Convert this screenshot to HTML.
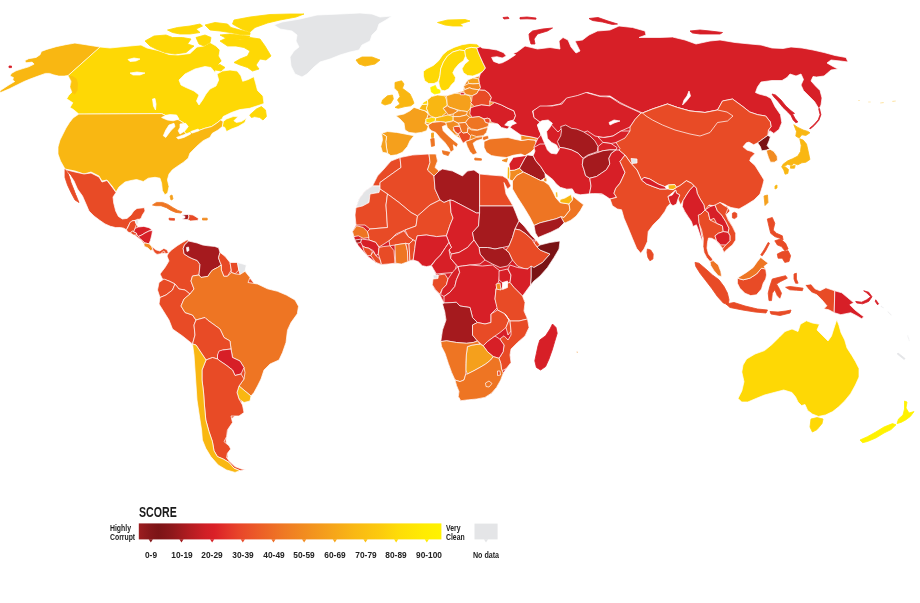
<!DOCTYPE html>
<html><head><meta charset="utf-8"><title>Score map</title>
<style>
html,body{margin:0;padding:0;background:#fff;}
body{width:920px;height:603px;position:relative;overflow:hidden;font-family:"Liberation Sans",sans-serif;color:#1a1a1a;}
svg{position:absolute;left:0;top:0;}
#map{filter:blur(.5px);}
#map polygon{stroke:#fff;stroke-width:.8;stroke-linejoin:round;stroke-opacity:.9;}
.t{position:absolute;white-space:nowrap;transform-origin:0 0;}
#score{left:138.9px;top:504.8px;font-size:14.4px;line-height:14.4px;font-weight:bold;transform:scaleX(.737);color:#1b1b1b;}
.sm{font-size:8.7px;line-height:8.2px;font-weight:bold;color:#222;}
#hc{left:109.6px;top:524.3px;transform:scaleX(.79);}
#vc{left:445.7px;top:524.3px;transform:scaleX(.79);}
.lb{position:absolute;top:551.3px;width:40px;text-align:center;font-size:8.6px;line-height:8.6px;font-weight:bold;color:#222;transform:scaleX(.97);white-space:nowrap;}
#nd{left:466.1px;transform:scaleX(.83);}
</style></head><body>
<svg id="map" width="920" height="603" viewBox="0 0 920 603">
<polygon points="0,90.8 8,85.5 14.7,81.5 12.7,80.1 13.4,77.5 10,76.1 11.4,73.4 16,70.8 22.1,68.8 28.7,66.8 34.1,64.1 32.1,62.1 26.1,62.8 24.7,60.7 28.7,58.7 36.1,57.4 40.1,54.7 41.4,51.4 46.8,49.4 56.1,46.7 65.5,44.7 74.9,43.1 85.6,44.7 93.6,46 100.3,47.1 68.2,75.5 64.2,76.1 58.8,76.1 53.5,74.8 49.5,73.4 45.5,73.4 38.1,76.1 30.7,78.8 24.1,81.5 17.4,84.8 9.4,88.8 0,92.8" fill="#F9B712"/>
<polygon points="100,47 110,48 120,47 130,46 141,45 147,48 158,50.5 169,54.5 178,55 190,53.5 197,47 204,46 210,42.5 216,46 220,50 219,56 222,61 218,65 215,72.5 211,67.5 205,66.5 195,69 185,74 179,80 181,85 186,87.5 194,91 199,95 196.5,101 199,105 202.5,100 206,94 210,89 216,86 218.7,80 217,74 222.5,71 230,70 237.2,71 240.9,75.8 242.7,81.3 248.3,79.5 253.8,76.7 255.6,83.1 257.5,90.5 263,96 264,103.5 259.7,105 249.7,108.3 239.8,109.6 231.4,112.5 223.1,116.6 222.3,118.5 220.6,120 216.5,123.3 211.5,126.6 204.8,128.3 199,130.4 195,131 191,133 187,135 184,131.5 186,124.5 179,120 170,117.5 161.6,113.6 78.8,114.1 73.4,109.5 70,107.5 72.8,102.8 66.7,98.8 68.7,95.4 72,92 70,86.7 71.4,81.4 68.2,75.5" fill="#FED805"/>
<polygon points="68.2,75.5 70.9,80.8 70.2,87.5 72.2,92.8 74.9,94.2 77.5,90.2 78,83.5 76.5,78.8 72.5,76.1" fill="#F9B712" style="stroke:none;opacity:.55"/>
<polygon points="249.7,115 256.4,109 261.4,106.6 265.5,110 266.4,116.6 263,120 259.7,117.5 254.7,116.6 251.4,117.5" fill="#FED805" style="stroke:#FED805;stroke-width:.9"/>
<polygon points="222.3,126.6 223.1,121.6 226.5,119 233.1,116.6 238.1,116.6 233.9,120.8 236.4,122.4 241.4,121.6 246.4,118.3 244.8,122.4 238.1,126.6 231.4,129 226.5,131.6 224.8,127.4" fill="#FED805"/>
<polygon points="145,41 154,36 166,35 172.5,37.5 182.5,37.5 191,39 187.5,44 194,46 186,52.5 175,54 165,52.5 156,49 150,46" fill="#FED805" style="stroke:#FED805;stroke-width:.9"/>
<polygon points="167.5,30 177.5,27.5 190,26 200,24 202.5,26 196,29 200,32.5 190,34 180,34 172.5,32.5" fill="#FED805" style="stroke:#FED805;stroke-width:.9"/>
<polygon points="205,25 215,22.5 227.5,24 231,27.5 240,30 250,32.5 250,34.5 240,34.5 230,32.5 220,31 210,30" fill="#FED805" style="stroke:#FED805;stroke-width:.9"/>
<polygon points="234,20 250,17 270,14.5 290,14 304,14 296,17 280,20 267.5,23 255,27.5 250,32 242.5,29.5 236,26 232.5,24" fill="#FED805" style="stroke:#FED805;stroke-width:.9"/>
<polygon points="220,41 227.5,37.5 240,40 250,37.5 260,39 265,46 271,56 266,60 260,59 256,65 259,69 252.5,71 247.5,67.5 240,65 234,62.5 240,59 247.5,56 250,51 244,47.5 236,46 227.5,46" fill="#FED805" style="stroke:#FED805;stroke-width:.9"/>
<polygon points="196,37.5 205,35 211,37.5 210,42.5 204,46 199,44" fill="#FED805" style="stroke:#FED805;stroke-width:.9"/>
<polygon points="220,35 230,34 242.5,35.5 250,36 247.5,39 237.5,39.5 227.5,39" fill="#FED805" style="stroke:#FED805;stroke-width:.9"/>
<polygon points="213.5,66 220,64.5 225,67.5 221,71 215.5,70" fill="#FED805" style="stroke:#FED805;stroke-width:.9"/>
<polygon points="274,25 282,22 300,19 317,15 340,14 360,13 372,14 380,17 392,16 386,20 379,24 377,30 372,35 370,41 362,45 359,50 350,52 340,55 330,59 320,62 314,67 307,74 302,77 295,74 291,66 290,57 294,51 299,47 296,41 297,35 292,31 280,29" fill="#E4E5E7"/>
<polygon points="356,60 362,57 372,57 380,60 375,64 365,66 359,64" fill="#F9B712" style="stroke:#F9B712;stroke-width:.9"/>
<polygon points="78.8,114.1 161.6,113.6 170,117.5 179,120 186,124.5 184,131.5 187,135 191,133 195,131 199,130.4 204.8,128.3 211.5,126.6 216.5,123.3 220.6,120 223.1,121.6 222.3,126.6 218.1,130 212.3,133.3 209.8,137.4 203.2,140.7 198.2,144.9 194,149 189.9,153.2 188.2,158.2 183.2,162.4 178.2,165.7 172.4,169.8 169,174 167.4,179.8 169,186.5 167.6,193.1 164.9,194.8 162.4,190.6 161.6,183.2 160,178.2 155,177.3 148.3,178.2 143.3,181.5 136.6,179.5 131,180.5 125,182 119,187 116,192 112,186 107,180 102,181 99,176 91,172 84,174 75,171 65,169 60.5,161 58,154 58,147 60,140 63,134 66,128 69.5,122.5 73,118" fill="#F9B712"/>
<polygon points="161.6,117.5 166,115.3 170,114.6 176.6,115 179,119 173.2,120.8 167.4,120" fill="#fff" stroke="none"/>
<polygon points="169,125 174,123.3 175,126.6 170.7,130.8 165.8,137.4 163.3,135.8 165.8,130" fill="#fff" stroke="none"/>
<polygon points="180,124 185.7,123.3 188.2,126.6 185,130.8 180,134 178.2,130.8 180,127.4" fill="#fff" stroke="none"/>
<polygon points="176.6,137.4 183.2,135 189.9,132.4 190.7,134 184,137.4 178.2,139" fill="#fff" stroke="none"/>
<polygon points="190.7,131.6 198.2,129 199,130.8 192.4,133" fill="#fff" stroke="none"/>
<polygon points="152.5,99 155,98.5 156,104 155.5,110 153.5,106" fill="#fff" stroke="none"/>
<polygon points="128,59.5 134,58 140,59 136,61 130,61.5" fill="#fff" stroke="none"/>
<polygon points="130,73 137,72 145,73 140,75 133,75" fill="#fff" stroke="none"/>
<polygon points="65,169.5 75,172 84,174 91,173 99,177 102,182 107,180.5 112,187 116,192.5 113,197 113.7,203 115.7,211 118.4,216.4 122.4,219 127,218.4 131,215 133.7,211 137,208.4 144.4,207.7 145,211 142.4,215 141,218.4 138.4,219.7 137,221.7 135,220.4 131.7,221 129.7,223 128.4,226.4 126.4,229.8 123.7,228.2 120.4,227.5 115.7,227.6 110.4,226.3 105,223.9 100,220.5 94,216 89,211 86,204 82.5,196 77.5,189 74,181 70,175" fill="#E84B26"/>
<polygon points="65,169.5 69,175 71,182.5 74,190 77.5,199 79,202.5 75,200 71,192.5 67.5,185 65,177.5" fill="#E84B26" style="stroke:#E84B26;stroke-width:.9"/>
<polygon points="69.5,174.5 72,181 75,189 77,195 75.5,189 73,181.5" fill="#fff" stroke="none"/>
<polygon points="128,226 135,221 138,227 150,228 151,236 149,243 152,248 158,252 164,250 166,253 157,254 152,250 146,246 141,240 133,234 128,231" fill="#E84B26"/>
<polygon points="126.4,229.8 128.4,226.4 129.7,223 131.7,221 135,220.4 136.4,224.4 135,228.4 133.7,231.8 132.4,231 130.4,233 127.7,231.8" fill="#E84B26"/>
<polygon points="136.4,219.7 138.4,219 138.2,223.7 136.4,224.4 135,220.4" fill="#E4E5E7"/>
<polygon points="130.4,233 132.4,231 133.7,231.8 136.4,233 137,235 133.7,235" fill="#E84B26"/>
<polygon points="135,228.4 138.4,227 143.8,226.4 149,227.7 152.5,230.4 149,231 145,233 141.8,235 138.4,236.4 137,235 136.4,233 133.7,231.8" fill="#D71F27"/>
<polygon points="138.4,236.4 141.8,235 145,233 149,231 152.5,230.4 151.8,235 150.4,240.4 149,243.8 145,243 142.4,240.4 139.7,238.4" fill="#D71F27"/>
<polygon points="143.8,243.8 145,243 149,243.8 151.8,246.4 153,249.8 150.4,250.4 147.8,247.8 144.4,246.4" fill="#F18B21"/>
<polygon points="151.8,246.4 155.8,249.8 159.8,251 163.8,248.4 167,249.8 168.5,253 165.8,253.8 163.8,251 160.5,253.8 157,254.4 154.4,252.4 153,249.8" fill="#E84B26"/>
<polygon points="152.5,205 156.5,202.4 162.5,202.4 167.8,204.4 173,207.7 177.8,210.4 181.8,211.7 181,213 175.8,212.4 171,210.4 166.5,207.7 161,205.7 155.8,205.7" fill="#EE7523" style="stroke:#EE7523;stroke-width:.9"/>
<polygon points="169,218.2 174.5,218.6 174.5,220.2 169.4,220" fill="#E84B26" style="stroke:#E84B26;stroke-width:.9"/>
<polygon points="181.8,215 188.5,214.4 189,217 187.8,219.7 181.8,219 185,217.7 185,216.4" fill="#A51A1E"/>
<polygon points="188.5,214.4 193,215 198.5,218.4 197.8,220.4 190.5,221 187.8,219.7 189,217" fill="#E84B26"/>
<polygon points="202.5,218.2 207.2,218.2 207.2,220 202.5,220" fill="#F18B21" style="stroke:#F18B21;stroke-width:.9"/>
<polygon points="170,196 172,195 173,199 171,200" fill="#F5A01C" style="stroke:#F5A01C;stroke-width:.9"/>
<polygon points="172,256 186,246 218,250 229,264 246,273 257,287 294,302 294,314 284,340 278,358 262,369 253,392 242,400 240,412 230,420 226,440 228,458 222,456 212,440 205,415 199,385 197,350 183,334 171,322 163,302 160,290 163,277 168,262" fill="#E84B26"/>
<polygon points="168.5,253 171.8,249.8 177.2,245.8 182.5,242.4 187.2,239.8 188.5,241 184.5,245 183.2,248.4 184,253.8 188,256.5 192,258.5 197.2,260.5 200,264.5 199,275 192.5,276 191,281 194,289 190,294 185,290 179,289 175,284 169,281 162.5,279 160,274 165,267.5 169,261 167,256" fill="#E84B26"/>
<polygon points="184.5,245 188.5,241 192,241.8 197.2,243 202.6,245 208,245.8 214.6,246.4 218.6,247.8 220,252.4 218.5,257.8 220,262 221.3,265 217.5,267.5 212.5,270 210,273 208,276.3 204,277 201,277.5 199,275 200,264.5 197.2,260.5 192,258.5 188,256.5 184,253.8 183.2,248.4" fill="#A51A1E"/>
<polygon points="186.5,247.5 188.5,247 189,250.5 187,251.5" fill="#fff" stroke="none"/>
<polygon points="220,252.4 225,256.3 230,262.5 231.3,270 227.5,276.3 223.8,276.3 221.3,270 221.3,265 220,262 218.5,257.8" fill="#E84B26"/>
<polygon points="230,262.5 237.5,262.5 238.8,270 235,273.8 231.3,272.5 231.3,270" fill="#E84B26"/>
<polygon points="237.5,262.5 246.3,265 245,271.3 240,274.5 238.8,270" fill="#E4E5E7"/>
<polygon points="159,282.5 164,279 169,281 175,284 172.5,290 166,295 160,297.5 157.5,290" fill="#E84B26"/>
<polygon points="160,297.5 166,295 172.5,290 175,284 179,289 185,290 190,294 184,299 181,306 185,312.5 192.5,315 196,320 194,325 195,335 192.5,344 182.5,336 172.5,329 169,320 164,312 159,304" fill="#E84B26"/>
<polygon points="192.5,276 199,275 201,277.5 204,277 208,276.3 210,273 212.5,270 217.5,267.5 221.3,265 221.3,270 223.8,276.3 227.5,276.3 231.3,272.5 235,273.8 240,274.5 245,271.3 250,277.5 248,282.5 257.5,284 267.5,288.8 277.5,291.3 286.3,295 295,300 298.5,306.3 297.3,313.8 291,322.5 287.5,330 286,342.5 282.5,352.5 279,360 270,364 264,370 261,379 257.5,386 254,392.5 251,396 245,391 239,386 244,379 245,372.5 244,367.5 240,361 232.5,357.5 231,349 230,341 224,337.5 220,329 207.5,320 205,317.5 196,320 192.5,315 185,312.5 181,306 184,299 190,294 194,289 191,281" fill="#EE7523"/>
<polygon points="196,320 205,317.5 207.5,320 220,329 224,337.5 230,341 231,349 222.5,350 217.5,355 217.5,359 212.5,357.5 206,360 201,352.5 196,345 192.5,344 195,335 194,325" fill="#E84B26"/>
<polygon points="219,351 222.5,350 231,349 232.5,357.5 240,361 244,367.5 241,374 235,375.5 232.5,370 226,365 220,361 217.5,359 217.5,355" fill="#D71F27"/>
<polygon points="239,386 245,391 251,396 250,401 244,402.5 239,399 237,392.5" fill="#F9B712"/>
<polygon points="206,360 212.5,357.5 217.5,359 220,361 226,365 232.5,370 235,375.5 241,374 244,379 239,386 237,392.5 239,399 242.5,405 244,412.5 239,416 231,416 232.5,422.5 227.4,430 226.6,436.6 224,441.6 229,445.8 230.7,449 227.4,453.3 226.6,457.4 229,460.8 235,466.6 241.5,469 245.7,469.4 240,470.7 234,468.2 229,462.4 223.2,459 217.4,456.6 214,450.8 212.4,441.6 209,431.6 205.8,420 204.5,406 203.5,392 202,380 202,370" fill="#E84B26"/>
<polygon points="192.5,344 196,345 201,352.5 206,360 202,370 202,380 203.5,392 204.5,406 205.8,420 209,431.6 212.4,441.6 214,450.8 217.4,456.6 223.2,459 229,462.4 234,468.2 240,470.7 235,472.4 226.6,470 218.2,465 210.8,456.6 205.8,448.3 202.4,440 201.6,430 200,420 198.5,410 197,400 196,385 195,370 194,355" fill="#F9B712"/>
<polygon points="427.4,100 437.4,95 446.5,95.8 454.8,93.3 463,91 464,85.8 467.5,80 473,78 479,76 485,69 489,75 491,90 492,100 500,104 514,111 515.5,116 508,121.6 498,124 489,123 488,127.4 486.4,132.4 483,136.5 476.5,140.7 470.6,139.8 465.6,141.5 460.7,139 454.8,134.9 449.8,130 446.5,124.9 440.7,121.6 432.4,122.4 428.2,124.9 425,123.2 426.6,119 428.2,114 427.9,104" fill="#F18B21"/>
<polygon points="437.5,22.5 447.5,20 465,19.5 470,21 460,24 462.5,26 452.5,26 445,25" fill="#FED805" style="stroke:#FED805;stroke-width:.9"/>
<polygon points="423.4,71.4 426.7,68.8 433.4,65.4 438.7,60.7 442.8,54.7 447.4,50.7 454,47.4 462,44.7 470,43.4 476.8,44 480.2,46.7 476.8,48 471.5,47.4 466,48.7 464.8,50.7 459.5,50 452.8,52 447.4,56 443.4,62 440.7,68.8 440,75.5 438,81.5 434,83.5 428.7,83.5 424.7,80.8 423.4,76" fill="#FED805"/>
<polygon points="443.4,62 447.4,56 452.8,52 459.5,50 464.8,50.7 465.5,56 463.5,60.7 458.8,64 454.8,68.8 452.8,72.8 455.5,77.5 454.8,81.5 451.4,84.8 448.8,88.8 444.8,90.8 441.4,90.2 439.4,86 438.7,81.5 440,75.5 440.7,68.8" fill="#FED805"/>
<polygon points="464.8,50.7 466,48.7 471.5,47.4 476.8,48 478.2,52 480.2,56.7 482.9,62.8 485.5,68 482.9,71.4 478.2,74 472.8,76 467.5,75.5 463.5,72.8 462,68.8 464.8,64 468.8,60.7 466.8,58.7 465.5,56" fill="#FED805"/>
<polygon points="430.7,87.5 435.4,85.5 436.7,88.8 440,90.2 440,92.8 434.7,94 431.4,92" fill="#FFF200" style="stroke:#FFF200;stroke-width:.9"/>
<polygon points="395,82.5 401.6,80.8 404,84 402.4,88.3 405.8,90.8 410,94 412.4,99 414,103.3 410.8,105.8 405,106.6 398.3,108.3 395,107.4 400,104 397.5,100 400,96.6 398.3,91.6 395,88.3" fill="#F9B712" style="stroke:#F9B712;stroke-width:.9"/>
<polygon points="382.5,100 387.5,95.8 392.5,95 393.3,99 390.8,103.3 385,105 381.6,103.3" fill="#F9B712" style="stroke:#F9B712;stroke-width:.9"/>
<polygon points="395.8,115.7 404,114 410,110.8 414,107.4 419,109 425,110.8 428.2,114 426.6,119 425,123.2 428.2,126.5 426.6,130.7 421.6,132.4 415.7,133.2 409,132.4 405,130 404,123.2 400,119" fill="#F5A01C"/>
<polygon points="381.6,133.2 387.5,131.5 396.6,132.4 405,134 414,135.7 410,140.7 407.4,146.5 402.4,152.3 396.6,154.8 390.8,155.6 387.5,153.2 386.6,148.2 385.8,141.5 386.6,136.5" fill="#F5A01C"/>
<polygon points="381.6,133.2 386.6,136.5 385.8,141.5 386.6,148.2 387.5,153.2 382.5,152.3 380.8,146.5 382.5,139.8" fill="#F5A01C"/>
<polygon points="419,109 422,104.5 427.9,104 426.5,108.3 428.2,112.4 425,110.8" fill="#F9B712"/>
<polygon points="422,104.5 423.2,102.4 427.4,100 427.9,104" fill="#FED805"/>
<polygon points="427.4,100 431.5,96.6 437.4,95 444.8,95.8 446.5,100 447.3,105 443.2,108.3 446.5,112.4 441.5,116.6 435.7,117.9 429.9,115.7 428.2,112.4 426.5,108.3 427.9,104" fill="#F9B712"/>
<polygon points="425.7,119 431.5,117.4 435.7,117.9 435.2,121.2 429.9,123.2 426.2,122.4" fill="#FED805"/>
<polygon points="435.7,117.9 441.5,116.6 448.2,114.9 453.2,116.6 453.2,120.7 445.7,122.4 440.7,121.6 435.2,121.2" fill="#F9B712"/>
<polygon points="446.5,95.8 454.8,93.3 463,94 469.8,95.8 471.5,101.6 470.6,108.3 467.3,111.6 461.5,110.8 454.8,109 449.8,107.4 447.3,105" fill="#F5A01C"/>
<polygon points="443.2,108.3 447.3,105.8 449.8,107.4 454.8,109 458.2,110.8 453.2,114 448.2,114.9 446.5,112.4" fill="#F18B21"/>
<polygon points="453.2,114 458.2,110.8 461.5,110.8 467.3,111.6 466.5,114.9 459.8,116.6 453.2,116.6" fill="#F18B21"/>
<polygon points="453.2,116.6 459.8,116.6 466.5,114.9 469.8,117.4 465.6,122.4 458.2,123.2 453.2,120.7" fill="#F18B21"/>
<polygon points="467.5,80 472.8,78 478.5,78.8 479.5,83.5 472.8,83.9 468.8,83.5" fill="#F5A01C"/>
<polygon points="463.5,86 468.8,83.5 472.8,83.9 479.5,83.5 480.5,87.5 479,89.8 472.8,89 469.5,87.8 464.8,89.5" fill="#F18B21"/>
<polygon points="463.5,90.2 469.5,87.8 472.8,89 479,89.8 476.8,93.5 472.2,95.8 466.8,94.6 464.1,92.8" fill="#F18B21"/>
<polygon points="460.1,92.6 464.1,92.6 464.6,94.8 460.5,94.8" fill="#D71F27"/>
<polygon points="472.2,95.8 476.8,93.5 479,89.8 484.9,90.2 489,93.3 491.4,97.5 489.8,101.6 489.8,105.8 481.4,104.9 474,106.6 470.6,102.4 471.5,101.6" fill="#E84B26"/>
<polygon points="469.8,108.3 474,106.6 481.4,104.9 489.8,105.8 494.7,102.4 501.4,104.9 508,108.3 513.9,110.8 515.5,115.7 513.9,119.9 508,121.6 504.7,124.9 509.7,126.5 507.2,129 501.4,127.4 498,124 491.4,122.4 489.8,119 487.3,118.2 484,119 479,116.6 472.3,117.4 469.8,114 470.6,108.3" fill="#D71F27"/>
<polygon points="428.2,124.9 432.4,122.4 440.7,121.6 445.7,122.4 446.5,124.9 442.3,126.5 443.2,130.7 448.2,135.7 454,140.7 458.2,144 456.5,147.3 453.2,144.8 454,149.8 450.7,152.3 449,148.2 444.8,142.4 439.8,137.4 435.7,132.4 431.5,130.7 429,128.2" fill="#EE7523"/>
<polygon points="442.3,150.7 449.8,152.3 448.2,155.6 443.2,154" fill="#EE7523" style="stroke:#EE7523;stroke-width:.9"/>
<polygon points="430.7,139 434,138.2 434.5,145.7 431.5,146.5" fill="#EE7523" style="stroke:#EE7523;stroke-width:.9"/>
<polygon points="431.5,133.2 433.5,132.9 433.5,137.4 431.5,137.4" fill="#F5A01C" style="stroke:#F5A01C;stroke-width:.9"/>
<polygon points="445.7,122.4 451.5,121.6 453.2,120.7 458.2,123.2 459.8,125.7 454.8,126.5 453.2,130 458.2,135.7 454.8,134.9 449.8,130 447.3,127.4 446.5,124.9" fill="#F18B21"/>
<polygon points="453.2,127.4 454.8,126.5 459.8,126.5 461.5,131.5 458.2,134 454.8,131.5" fill="#E84B26"/>
<polygon points="458.2,123.2 465.6,122.4 468.1,126.5 467.3,132.4 463.1,133.2 461.5,131.5 459.8,126.5 459.8,125.7" fill="#EE7523"/>
<polygon points="458.2,134 461.5,131.5 463.1,133.2 467.3,132.4 470.6,135.7 469.8,139.8 465.6,141.5 463.1,143.2 460.7,139" fill="#E84B26"/>
<polygon points="467.3,119.9 469.8,117.4 472.3,117.4 479,116.6 484,119 485.6,122.4 489,123.2 488,126.5 483.1,128.2 477.3,129.9 471.5,129 468.1,126.5 465.6,122.4" fill="#EE7523"/>
<polygon points="484,119 487.3,118.2 489.8,119 490,122.6 489,123.2 485.6,122.4" fill="#E84B26"/>
<polygon points="471.5,129.9 477.3,130.4 483.1,128.6 488,127.4 486.4,132.4 483.1,135.7 476.5,136.5 471.5,134.9 470.6,135.7 467.3,132.4 468.1,128" fill="#EE7523"/>
<polygon points="465.6,141.5 470.6,139.8 476.5,137.4 483.1,136.5 482.3,139 476.5,140.7 473.1,143.2 474.8,148.2 477.3,153.2 473.1,154.8 469.8,151.5 467.3,146.5" fill="#EE7523"/>
<polygon points="474.8,158 481.4,158.8 481.4,160.2 474.8,160" fill="#EE7523" style="stroke:#EE7523;stroke-width:.9"/>
<polygon points="483.1,136.5 488,135.5 489,138.5 484,140.5 482.3,139" fill="#EE7523"/>
<polygon points="484,141.5 489.8,139 498,138.2 508,137.5 515,139.3 521,140.5 528,139.5 535,140 537,144 535,148 531,152 525,155.7 521,154 513,155.3 506.4,157.5 498,156.7 491.4,155.6 486.4,152.3 484,147.3" fill="#EE7523"/>
<polygon points="502,160.5 507.5,158.5 506.5,162" fill="#F18B21" style="stroke:#F18B21;stroke-width:.9"/>
<polygon points="520.8,135 526,136 532,137 538,138.5 538.5,141 535,140 528,139.5 521,140.5" fill="#F18B21"/>
<polygon points="535,140 538.5,141 541,139 546.5,142 548,148 543.5,147 540,148.5 537,144" fill="#D71F27"/>
<polygon points="508,121.6 513,120.7 516.4,123.2 512.2,124.9 509,124" fill="#fff" stroke="none"/>
<polygon points="391,161 400,157.5 412.5,155 429,154 436,154 437.5,161 435,167.5 439,171 442.5,169 452.5,171 462.5,176 467.5,171 474,170 479,174 490,175 502.5,176 507.5,179 511,186 507.5,189 504,182.5 506,194 512.5,205 515,215 519,221 524,226 531,235 536,240 540,245 550,242.5 560,241 559,249 554,257.5 547.5,267.5 540,276 534,281 530.5,285 522.5,296 525,302.5 524,311 527.5,319 529,327.5 525,336 517.5,342.5 511,349 510,355 511,362.5 506.5,368.3 503.2,373.2 500.7,380 496.5,387.4 491.5,393.2 484.9,397.4 476.6,399 468.3,399.8 460.8,400.7 458.3,396.5 459,391.5 456.6,385.7 455,380 451.6,372.4 448.3,363.3 445,353.3 441.6,346.6 440.8,341.6 442.5,330 446,320 444.8,315 445.6,308 444,303.2 441.5,298.2 439.8,294.8 434.8,289.8 432.3,285 433,281.5 436.5,278.2 435.6,274 434,270 431.5,265.7 426.5,266.6 422.3,265.7 418.2,261.6 413.2,260 408.2,261.6 401.5,264 395,263.2 388.2,264 381.6,265 375.8,262.4 369,257.4 363.3,251.6 358.3,245.8 355,240.8 354,237.5 352.5,231.6 356,225 355,215 356,207.5 359,199 365,191 372.5,186 377.5,176 384,169" fill="#D71F27"/>
<polygon points="377.5,176 384,169 391,161 400,157.5 401,167.5 396,171 389,176 380,182.5 380,186 372.5,186" fill="#E84B26"/>
<polygon points="356,207.5 359,199 365,191 372.5,186 380,186 379,192.5 370,194 369,202.5 362.5,206" fill="#E4E5E7"/>
<polygon points="400,157.5 412.5,155 429,154 430,162.5 427.5,170 434,176 435,189 440,200 430,205 417.5,216 411,212.5 399,202.5 387.5,194 380,189 380,182.5 389,176 396,171 401,167.5" fill="#E84B26"/>
<polygon points="429,154 436,154 437.5,161 435,167.5 439,171 434,176 427.5,170 430,162.5" fill="#EE7523"/>
<polygon points="434,176 439,171 442.5,169 452.5,171 462.5,176 467.5,171 474,170 479.6,174 479.6,189 479.6,213 476.5,213 453,200.6 450,200 444,202.5 440,200 435,189" fill="#A51A1E"/>
<polygon points="479.6,174 490,175 502.5,176 507.5,179 511,186 507.5,189 504,182.5 506,194 513,206 479.6,206 479.6,189" fill="#E84B26"/>
<polygon points="356,207.5 362.5,206 369,202.5 370,194 379,192.5 380,189 387.5,194 386,205 387.5,227.5 370,229 365,225 356,225 355,215" fill="#E84B26"/>
<polygon points="387.5,194 399,202.5 411,212.5 417.5,216 416,226 405,230 396,234 390,240 384,244 379,247 375.8,242.4 369,240 367.4,231.6 370,229 387.5,227.5 386,205" fill="#E84B26"/>
<polygon points="417.5,216 430,205 440,200 444,202.5 450,200 451,212.5 453,218 450,225 446.4,235.8 436.5,236.6 426.5,235 417.3,235.8 415.7,241.6 413.2,240 408.2,236.6 405,230 416,226" fill="#E84B26"/>
<polygon points="450,200 453,200.6 476.5,213 479.6,213 478.5,226 472.5,232.5 474,240 467.5,247.5 459,252.5 451.4,254 449,250 451.4,247.4 449,242.4 446.4,235.8 450,225 453,218 451,212.5" fill="#D71F27"/>
<polygon points="479.6,206 513,206 515.5,212 519,221 515,229 512.5,237.5 509,246 502.5,247.5 495,249 487.5,247.5 479,247.5 474,240 472.5,232.5 478.5,226 479.6,213" fill="#A51A1E"/>
<polygon points="479,247.5 487.5,247.5 495,249 502.5,247.5 506,250 509,252.5 512.5,260 507.5,266 500,267.5 492.5,264 485,260 480,254" fill="#A51A1E"/>
<polygon points="515,229 519,221 524,226 531,235 536,240 532.5,240 526,234 520,230" fill="#A51A1E"/>
<polygon points="536,240 540,245 537,247 534,243" fill="#E84B26"/>
<polygon points="512.5,237.5 515,229 520,230 526,234 532.5,240 534,243 537,247 540,250 550,254 542.5,262.5 534,267.5 525,269 517.5,266 512.5,260 509,252.5 506,250 509,246" fill="#E84B26"/>
<polygon points="540,245 550,242.5 560,241 559,249 554,257.5 547.5,267.5 540,276 534,281 530.5,285 531,277 531,266 534,267.5 542.5,262.5 550,254 540,250 537,247" fill="#7A1315"/>
<polygon points="352.5,231.6 356.6,225.8 363.3,227.5 367.4,231.6 369,237.5 363.3,238.3 358.3,235.8 354,236.6" fill="#EE7523"/>
<polygon points="355,240 361.6,239 360.8,242.4 356.6,243.3" fill="#A51A1E"/>
<polygon points="360.8,242.4 361.6,239 369,240 375.8,242.4 379,247.4 378.3,254 375.8,255.7 373.3,250.7 369,248.3 365,247.4 362.5,245.8" fill="#D71F27"/>
<polygon points="362.5,245.8 365,247.4 369,248.3 372.4,251.6 370.8,255.7 367.4,255.5 364,251" fill="#E84B26"/>
<polygon points="370.8,255.7 373.3,251.5 375.8,255.7 380,259 381.6,264.5 375.8,262.4" fill="#E84B26"/>
<polygon points="379,247.4 383.2,246.6 389.9,245.8 394,250.7 394.9,263.2 388.2,264 381.6,264.5 380,259 378.3,254" fill="#E84B26"/>
<polygon points="389,240.8 394.9,235.8 404,230.8 408.2,236.6 413.2,240 409,244 405.7,243.3 394.9,245 389.9,245.8" fill="#E84B26"/>
<polygon points="394.9,245 405.7,243.3 407.4,250.7 408.2,261.6 401.5,264 395.7,263.2" fill="#EE7523"/>
<polygon points="405.7,243.3 409,244 409.9,260.5 407.9,261.6 407.4,250.7" fill="#E84B26"/>
<polygon points="409,244 413.2,240 415.7,241.6 414.8,248.3 413.2,260 409.9,260.5" fill="#E84B26"/>
<polygon points="415.7,241.6 417.3,235.8 426.5,235 436.5,236.6 446.4,235.8 449,242.4 445.6,247.4 440.6,255 435.6,260 430.6,265.7 426.5,266.6 422.3,265.7 418.2,261.6 413.2,260 414.8,248.3" fill="#D71F27"/>
<polygon points="449,242.4 451.4,247.4 449,250 450.6,258.3 456.4,265 454.8,272.4 444.8,273.2 436.5,274 434,270 431.5,265.7 435.6,260 440.6,255 445.6,247.4" fill="#D71F27"/>
<polygon points="451.4,254 459,252.5 467.5,247.5 474,240 479,247.5 480,254 485,260 480,264 470,265 462.5,266 458,266.6 456.4,265 450.6,258.3" fill="#D71F27"/>
<polygon points="433,275 438,275 438,278.2 433.5,278.5" fill="#E4E5E7"/>
<polygon points="433,279 438,278.5 438.5,275 444.8,274 448,279 446.4,284.8 442.3,289 439.8,294 435.6,289.8 432.3,284.8" fill="#E84B26"/>
<polygon points="448,279 453,271.5 458,266.6 459.7,272.4 456.4,279.8 454.8,286.5 449.8,292.4 444,296.5 440.6,294.5 442.3,289 446.4,284.8" fill="#D71F27"/>
<polygon points="458,266.6 462.5,266 470,265 482.5,266 492.5,265 500,271 499,280 496,289 495,299 497.5,307.5 491,314 491,322.5 485,324 477.5,322.5 472.5,317.5 470,307.5 460,306 456.4,302.3 444,303 444,296.5 449.8,292.4 454.8,286.5 456.4,279.8 459.7,272.4" fill="#D71F27"/>
<polygon points="499,271 507.5,269 511,275 510,282.5 504,284 499,280" fill="#D71F27"/>
<polygon points="510,265 517.5,267.5 527.5,269 531,266 531,277 530.5,285 522.5,296 514,287.5 510,282.5 511,275 508,269" fill="#D71F27"/>
<polygon points="496,284 500,283 501,290 497,291" fill="#F18B21"/>
<polygon points="496,289 501,290 504,284 510,282.5 514,287.5 522.5,296 525,302.5 524,311 527.5,319 519,321 510,321 505,314 497.5,310 495,299" fill="#E84B26"/>
<polygon points="502.5,282.5 507.5,281 507.5,287.5 502.5,289.5" fill="#fff" stroke="none"/>
<polygon points="442.5,304 444,303 456.4,302.3 460,306 470,307.5 472.5,317.5 477.5,322.5 472.5,325 472.5,335 477.5,341 473.2,342.5 466.6,343.3 456.6,342.5 446.6,340.8 440.8,341.6 442.5,330 446,320 444.8,312" fill="#A51A1E"/>
<polygon points="472.5,325 477.5,322.5 485,324 491,322.5 491,314 497.5,310 505,314 509,320 506,327.5 500,332.5 495,336 487.4,341.6 483.2,345.8 477.5,341 472.5,335" fill="#E84B26"/>
<polygon points="505,314 510,321 511,331 508,335 506,327.5 509,320" fill="#E84B26"/>
<polygon points="510,321 519,321 527.5,319 529,327.5 525,336 517.5,342.5 511,349 510,355 511,362.5 506.5,368.3 502.3,370.7 501.5,369 500.7,363.3 499,358.3 503.2,351.6 504,345 499.8,339 504,335.8 508,340 511,335 511,331" fill="#E84B26"/>
<polygon points="483.2,345.8 487.4,341.6 495,336 499.8,339 504,345 503.2,351.6 499,358.3 493.2,356.6 487.4,351.6" fill="#D71F27"/>
<polygon points="467.4,346.6 472.4,345 480,344 483.2,345.8 487.4,351.6 493.2,356.6 490.7,360 485.7,364 480,367.4 474,370.7 467.4,374 465.8,370 466.3,355" fill="#F5A01C"/>
<polygon points="440.8,341.6 446.6,340.8 456.6,342.5 466.6,343.3 473.2,342.5 477.5,341 480,344 472.4,345 467.4,346.6 466.3,355 465.8,363.3 465.8,374 464,380 460,381.6 455,380 451.6,372.4 448.3,363.3 445,353.3 441.6,346.6" fill="#EE7523"/>
<polygon points="455,380 460,381.6 464,380 465.8,374 467.4,374 474,370.7 480,367.4 485.7,364 490.7,360 493.2,356.6 499,358.3 500.7,363.3 501.5,369 503.2,373.2 500.7,380 496.5,387.4 491.5,393.2 484.9,397.4 476.6,399 468.3,399.8 460.8,400.7 458.3,396.5 459,391.5 456.6,385.7" fill="#EE7523"/>
<polygon points="485.5,383 489,381 492,383.5 489,387 486,386.5" fill="#EE7523"/>
<polygon points="497.5,371 500,371 500.5,375 497.5,375.5" fill="#E84B26"/>
<polygon points="552.5,324 556,327.5 557.2,333.3 554.7,341.6 552.2,350 549,359 545.6,366.6 540.6,370 536.4,367.4 534.8,360.8 536.4,353.3 538,345.8 539.8,340 545.6,335.8 550,329" fill="#D71F27" style="stroke:#D71F27;stroke-width:.9"/>
<polygon points="576.6,351.6 578,351.6 578,353 576.6,353" fill="#F18B21"/>
<polygon points="533,108 560,100 600,93 645,112 640,150 625,156 616,197 605,195 589,192.5 570,189 552,179 545,172 536,156 534,147 538,138 541,134 537.5,125 534,117" fill="#D71F27"/>
<polygon points="683,200 694,186 705,205 715,206 727,206 730,211 726,215 734,229 735,236 727.5,249 724,250 719,244 712,236 706,240 702,237 700,227 696,225 691,221 684,211" fill="#E84B26"/>
<polygon points="476.8,48 480.2,46.7 482.2,48 488.9,48.7 496.9,50 503.6,52.7 506.3,56 502.2,58 496.9,56.7 491.6,57.4 493.6,61.4 498.9,63.4 502.2,62.8 507.6,60 511.6,57.4 515.6,54.7 513,53.4 517,52 525,46 537.5,49 550,47.5 560,49 559,41 563,37.5 568,40 571,47 576,53 580,51 577.5,46 575,41 582.5,40 589,35 597.5,31 610,30 619,26 632.5,27.5 645,31 646,35 639,37.5 660,37.5 672.5,37 685,40 696,44 710,41 720,40 735,42.5 750,44 761,45 772,48 783,48.5 791,47 802,48 813,50 824,52.5 835,55.5 846,57.5 848,62 840.5,61 831,60 827,63 833,66.5 838,69 831,70 827.5,73 824,76 816.5,77 813,76.5 811,81 815.5,86 820,90.5 822,98 821,105 819,109 814.5,101.5 809,96 803.5,90.5 801,85 803.5,79.5 801,74 796,76 790,74 787,77.5 782,80.5 772,80.5 761,82 757.5,87 755.5,92.5 759,94 766.5,96 771,98.5 775,106.7 780.5,114.7 781.8,122.7 779,129.4 773.8,133.4 769.8,130.7 767.8,135.4 768.4,130 771,126.7 770.4,122 765.7,116 757.7,114.7 749.7,112 743,106.7 732.5,99 722.5,101 717.5,110 705,112.5 690,111 677.5,107.5 667.5,104 652.5,109 642.5,113 630,107.5 620,102.5 610,96 600,96 587.5,92.5 577.5,96 566,99 560,104 550,106 539,107.5 532.5,111 534,117.5 540,122 537.5,125 539,130 541,134 540,136 538,138.5 532,137 526,136 520.8,135 515,131 510,127.5 512.2,124.9 516.4,123.2 513,120.7 513.9,119.9 515.5,115.7 513.9,110.8 508,108.3 501.4,104.9 494.7,102.4 489.8,101.6 491.4,97.5 489,93.3 484.9,90.2 479,89.8 480.5,87.5 479.5,83.5 478.8,78.8 480.2,74 482.9,71.4 485.5,68 482.9,62.8 480.2,56.7 478.2,52" fill="#D71F27"/>
<polygon points="503,17.5 508,17 509,18.5 504,19" fill="#D71F27" style="stroke:#D71F27;stroke-width:.9"/>
<polygon points="520,17.5 527,17 536,18 536,19.2 527,18.8 520,19" fill="#D71F27" style="stroke:#D71F27;stroke-width:.9"/>
<polygon points="9,66 11.5,66 11.5,67.6 9,67.6" fill="#D71F27" style="stroke:#D71F27;stroke-width:.9"/>
<polygon points="529,34 532.5,31 542.5,29 552.5,28 547.5,31 537.5,34 534,39 535,44 531,44 529.5,39" fill="#D71F27" style="stroke:#D71F27;stroke-width:.9"/>
<polygon points="589,18.5 598,17.5 608,21 617.5,24 612.5,24.5 602.5,22 592.5,20.5" fill="#D71F27" style="stroke:#D71F27;stroke-width:.9"/>
<polygon points="690,31 700,30 710,31 722.5,32.5 720,34 710,34 700,34 692.5,33" fill="#D71F27" style="stroke:#D71F27;stroke-width:.9"/>
<polygon points="772,94 775.5,95 781,100 785.8,106 791,110.7 794.5,113.4 792.5,114 795.2,118.7 797.8,122 795.8,122.7 793.2,120 791,115.4 787.8,112 783,107.4 777.8,101 773.5,96.5" fill="#D71F27" style="stroke:#D71F27;stroke-width:.9"/>
<polygon points="819.5,108.5 820.9,114.7 818.9,120.2 814.2,125.6 810.2,128.9 809.6,128.3 813.6,125 818.2,119.8 820.1,114.7 818.7,108.7" fill="#D71F27" style="stroke:#D71F27;stroke-width:.9"/>
<polygon points="689,91 690.5,96 686.5,101 682.5,105 684,100 687,96" fill="#fff" stroke="none"/>
<polygon points="540,122 534,117.5 533,111 540,106 552,106 562,104 566.5,98 577.5,95.5 586,92.5 600,96.5 610,97 620,103.5 630,108 641,113 635,119.5 630,127 621,131 613,136 603,137.5 595,136 587.5,131 579,134 572.5,131 562.5,127.5 558,132 552,125.5 548,121" fill="#D71F27"/>
<polygon points="609,122.5 614,120 620,121 614,123 610,125" fill="#fff" stroke="none"/>
<polygon points="560.7,126.6 565.7,125 571.5,128.3 576.5,129 583.1,131.6 589.8,135.8 594.8,140.7 598.1,146.6 597.3,151.6 593.1,153.2 588.1,154.9 583.1,158.2 578.2,153.2 571.5,149.9 564.9,148.2 559.9,147.4 557.4,141.6 560.7,135.8 561.5,130.8" fill="#A51A1E"/>
<polygon points="598,137 605,137.5 613,136 621,131 630,131 626.4,138 619,142 611,143.5 603,142.4" fill="#D71F27"/>
<polygon points="598.1,146.6 603,142.4 611,143.5 617,147.5 616,150 609.8,149.9 603.1,150.7 598.1,152.4" fill="#D71F27"/>
<polygon points="537.4,125 541.6,120.8 548.2,120 552.4,123.3 549.9,127.4 546.6,131.6 547.4,138.2 551.5,142.4 556.5,144.9 559,149.9 556.5,154 550.7,153.2 547.4,149.9 544.9,144 542.4,138.2 539.9,131.6" fill="#fff" stroke="none"/>
<polygon points="509,164 513.3,157.4 525,155.7 527.4,154.9 525,158.2 519.5,168.3 514.3,170.3 509.7,170.5" fill="#D71F27"/>
<polygon points="507.5,167 509.5,167 510,174 509.3,179.5 507.2,178" fill="#F9B712"/>
<polygon points="509.7,170.5 514.3,170.3 519.5,168.3 523.3,172 516.7,175.5 512.5,181 509.5,179.5 510,174" fill="#F18B21"/>
<polygon points="519.5,168.3 525,158.2 527.4,154.9 533.2,155.7 535.7,160.7 540.7,166.5 544.9,173.2 545.5,178 540.5,180.5 536.5,178.5 530.5,175.5 523.3,172" fill="#A51A1E"/>
<polygon points="543.5,178.5 546.5,177.5 547,181.5 544,182" fill="#F18B21"/>
<polygon points="534,147.5 540,144 544.9,144 547.4,149.9 550.7,153.2 556.5,154 559,149.9 559.9,147.4 564.9,148.2 571.5,149.9 578.2,153.2 583.1,158.6 582.3,164.9 584,169.8 585.6,175.7 589.8,178.2 591,186 589.5,193.8 580.2,194.8 574.9,193.4 572.2,188.8 566.8,189.2 560.2,187.3 556.1,183.8 552.8,179.5 546.5,174.5 544.9,173.2 540.7,166.5 535.7,160.7 533.2,155.7 535,151" fill="#D71F27"/>
<polygon points="512.5,181 516.7,175.5 523.3,172 530.5,175.5 536.5,178.5 540.5,180.5 543.5,181 549,185 552.5,191 556,198 560,202.5 569,204 570,210 564,217.5 560.8,216.8 556.1,218.8 548.1,220.8 540.1,222.8 534,225.5 530,217.5 524,207.5 517.5,197.5 512.5,189" fill="#EE7523"/>
<polygon points="555.5,192 557.5,192 558,197 556,197.5" fill="#F9B712"/>
<polygon points="560,199.5 565,198 571,194.5 572.5,200 569,204 560,202.5" fill="#F9B712"/>
<polygon points="572.9,196.1 577.5,200.1 583.6,204.8 580.2,210.8 576.2,216.1 570.9,220.2 565.5,222.8 564.2,222.8 560.8,216.8 564,217.5 570,210 569,204 572.5,200" fill="#EE7523"/>
<polygon points="534,225.5 540.1,222.8 548.1,220.8 556.1,218.8 560.8,216.8 564.2,222.8 558.8,228.2 550.8,232.2 542.8,235.5 538.1,237.5 535.4,232.9" fill="#A51A1E"/>
<polygon points="583.1,159 588.1,155.7 593.1,154 598.1,152.4 603.1,150.7 609.8,149.9 616,150 611.4,153.2 608.9,158.2 609.8,164 606.4,169.8 601.4,173.2 596.5,176.5 589.8,178.2 585.6,175.7 584,169.8 582.3,164.9" fill="#A51A1E"/>
<polygon points="589.8,178.2 596.5,176.5 601.4,173.2 606.4,169.8 609.8,164 608.9,158.2 611.4,153.2 616,150 619,150 625,155 620,161.6 622.4,166.6 625,172.4 622.4,178.2 620,183.2 615.8,188.2 614,193.2 616.6,197.4 610,199 605.6,196.1 601.6,193.6 593.6,193.6 589.5,193.8 591,186" fill="#D71F27"/>
<polygon points="641,113 642.5,113 652.5,109 667.5,104 677.5,107.5 690,111 705,112.5 717.5,110 722.5,101 732.5,99 743,106.7 749.7,112 757.7,114.7 765.7,116 770.4,122 771,126.7 768.4,130 767.8,135.4 763.1,138.8 757.7,142.8 753.7,144.8 749,142.1 746.4,142.8 743,146.8 747,150.1 751.7,151.5 755,153.5 751,157.5 749.7,160.8 755,165.5 758.4,170.9 761.7,176.2 764,180 762.5,186 760,194 754,200 746,205 739,209 731,207.5 727.5,206 724,204 720,202.5 715,206 709,205 705,210 704.7,209 703.9,204.9 699.7,198.2 697.2,193.2 696.4,188.2 694,185.7 691.4,183.2 686.4,180.7 679.8,185.7 676.5,187.4 674.8,184.6 668,185 664.8,186.6 658.2,184 649.8,179 644,177.4 641.5,180 637,170 630.7,163 625,155 619,150 620,148.5 616,142.5 625,138 630,131 630,127 635,119.5" fill="#E84B26"/>
<polygon points="642.5,113 652.5,109 667.5,104 677.5,107.5 690,111 705,112.5 717.5,110 727,112 733,116 727.5,121 717.5,122.5 710,132.5 700,136 690,134 675,130 662.5,125 652.5,120 646,116" fill="#E84B26"/>
<polygon points="625,155 630.7,163 637,170 641.5,180 646.5,184 653.2,186.6 659.8,189 666.5,189 668.5,189 673,189.6 676.5,187.4 679.8,185.7 686.4,180.7 691.4,183.2 694,185.7 689.8,190 686.4,195 683,200.7 680.6,204.9 678,199 679.8,195 676.5,193.2 675.6,190 668,196.5 669,200 670.6,204 669.8,204 667.3,206.5 664.8,211.5 659.8,218.2 653.2,224.8 648.2,231.6 647.4,241.6 644,249 640.7,253.3 636.6,248.3 632.4,238.3 628.3,228.3 624,218.2 621.6,209.8 617.4,209 612.4,205.7 610,199 616.6,197.4 614,193.2 615.8,188.2 620,183.2 622.4,178.2 625,172.4 622.4,166.6 620,161.6" fill="#E84B26"/>
<polygon points="631,158.5 637,159 637,163 632,163.5" fill="#E4E5E7"/>
<polygon points="641.5,180 644,177.4 649.8,179 658.2,184 664.8,186.6 666.5,189 659.8,189 653.2,186.6 646.5,184" fill="#D71F27"/>
<polygon points="668,185 674.8,184.6 676.5,187.4 673,189.6 668.5,189" fill="#F9B712"/>
<polygon points="668,196.5 672.3,195 675.6,190 676.5,193.2 679.8,195 678,199 676.5,204 673,205.7 670.6,204 669,200" fill="#D71F27"/>
<polygon points="647.4,249 650.7,250 653.2,254 652.9,259 649.9,260.7 647.9,257.4 647,252.4" fill="#E84B26" style="stroke:#E84B26;stroke-width:.9"/>
<polygon points="686.4,195 689.8,190 694,185.7 696.4,188.2 697.2,193.2 699.7,198.2 703.9,204.9 704.7,209 705,210 701,214 699,220 700,227.5 702,237.5 703,243 701,238 698,229 696.4,224.8 693,226.5 691.4,221.5 688,216.5 684.8,211.5 682.3,206.5 683,200.7" fill="#D71F27"/>
<polygon points="698.3,215 701,214 705,210 708.3,212.5 710,220 716.6,223.3 722.4,225.8 723.3,231.6 718.3,233.3 715,235.8 716.6,240.8 711.6,238.3 708.5,238 707.5,242.4 707,248.2 708.5,254 712,258.5 713.3,260.7 710,261.5 706.6,257.4 704,252.4 703,246.6 703.3,238.3 701.6,230 699,223.3" fill="#E84B26"/>
<polygon points="708.3,212.5 705,210 710,206.7 715,205 717.4,210.8 721.6,215 725.8,221.6 729,228.3 728.2,232.4 723.3,231.6 722.4,225.8 716.6,223.3 714,218.3 710,220" fill="#D71F27"/>
<polygon points="715,205 720,202.5 723.3,205 728.2,208 725.8,214 728.2,220 732.4,226.6 735.7,233.3 735.7,240 732.4,244.9 727.4,249 724,252.4 722.4,249 725.8,244.9 729.9,240.8 729.9,235.8 728.2,232.4 729,228.3 725.8,221.6 721.6,215 717.4,210.8" fill="#E84B26"/>
<polygon points="715,235.8 718.3,233.3 723.3,231.6 728.2,232.4 729.9,235.8 729.9,240.8 725.8,244.9 720.8,244.9 716.6,240.8" fill="#D71F27"/>
<polygon points="710,261.5 713.3,260.7 718.3,264.9 720.8,271.5 721.6,276.5 718.3,275.7 714,270.7 710.8,265.7" fill="#EE7523"/>
<polygon points="732.4,213.3 734.5,212.3 736.8,213.5 736.8,217 734.5,218.6 732.4,217.8" fill="#E84B26" style="stroke:#E84B26;stroke-width:.9"/>
<polygon points="764,196 767.5,195 768,202.5 765,205.5" fill="#F5A01C" style="stroke:#F5A01C;stroke-width:.9"/>
<polygon points="757.7,142.8 763.1,138.8 767.8,135.4 770.4,136.8 769.1,140.8 767.1,145.5 769.8,148.8 766.4,150.1 761.7,150.8 760.4,146.8" fill="#7A1315"/>
<polygon points="766.4,150.5 770,149.2 773.8,151.5 777.1,156.1 777.5,160.2 774.4,162.2 770.4,162.2 768.4,157.5 767.1,153.5" fill="#F18B21"/>
<polygon points="793.8,124.7 797.8,127.4 803.2,130 807.9,131.4 809.9,132.8 805.9,135.4 801.8,134.8 799.2,138.1 795.8,136.1 796.5,131.4" fill="#F9B712" style="stroke:#F9B712;stroke-width:.9"/>
<polygon points="799.8,138.8 803.2,140.1 806.5,144.1 807.9,150.1 809.2,156.1 809.9,159.5 805.9,162.2 801.8,162.8 797.8,164.8 793.8,163.5 791.2,165.5 787.8,164.2 785.8,165.5 781.8,166.8 783.1,164.2 787.8,160.8 792.5,158.8 797.8,156.1 800.5,151.5 801.2,145.5" fill="#F9B712" style="stroke:#F9B712;stroke-width:.9"/>
<polygon points="781.8,166.8 785.1,166.8 788.5,169.5 787.8,173.5 785.1,174.2 783.8,170.2" fill="#F9B712" style="stroke:#F9B712;stroke-width:.9"/>
<polygon points="790.5,166.2 795.2,165.5 794.5,168.2 790.5,168.2" fill="#F9B712" style="stroke:#F9B712;stroke-width:.9"/>
<polygon points="775,186 777,185 777,188 775,189" fill="#F9B712" style="stroke:#F9B712;stroke-width:.9"/>
<polygon points="868,101.5 870.5,101.5 870.5,102.5 868,102.5" fill="#F9B712"/>
<polygon points="880,102.5 884,102 884,103 880,103.5" fill="#F9B712"/>
<polygon points="892,101 896,100.5 896,101.5 892,102" fill="#F9B712"/>
<polygon points="858,100 860,100 860,101 858,101" fill="#F9B712"/>
<polygon points="695,262.4 699,263.2 705.8,269 712.4,274.9 719,279.8 724,286.5 727.4,293 729,299.8 728.2,304.8 723.3,303 717.4,296.5 711.6,288.2 705.8,280.7 700,273.2 695.8,266.5" fill="#E84B26" style="stroke:#E84B26;stroke-width:.9"/>
<polygon points="726,304 734,302.5 745,306 757.5,309 767.5,310 766,313 755,312 742.5,310 730,307.5" fill="#E84B26" style="stroke:#E84B26;stroke-width:.9"/>
<polygon points="770,311.5 778,312 786,311 791,310 790,313 780,315.5 771,314" fill="#E84B26" style="stroke:#E84B26;stroke-width:.9"/>
<polygon points="737.4,278.2 743.2,279.8 749.9,278.2 756.5,274 761.5,268.2 765.7,269 766.5,274.9 765.7,279 763.2,283.2 761.5,289 756.5,294.8 750.7,295.6 744.9,293.2 739.9,288.2 737.4,283.2" fill="#E84B26"/>
<polygon points="739.9,276.5 746.5,272.4 753.2,267.4 757.4,261.5 760.7,257.4 764.8,260.7 768.2,263.2 764,266.5 765.7,269 761.5,268.2 756.5,274 749.9,278.2 743.2,279.8 737.4,278.2" fill="#EE7523"/>
<polygon points="772.3,279 779,277.3 785.6,275.7 787.3,278.2 780.6,281.5 776.5,284 779,288.2 781.5,293.2 779.8,298.2 777.3,295.6 774.8,289.8 772.3,293.2 771.5,300.6 769,300.6 768.2,293.2 769.8,286.5" fill="#E84B26" style="stroke:#E84B26;stroke-width:.9"/>
<polygon points="767.3,219 772.3,217.5 774.8,223.3 773.2,230 776.5,233.3 782.3,235.8 783.1,240 779.8,238.3 774.8,236.6 770.7,233.3 769,226.6" fill="#E84B26" style="stroke:#E84B26;stroke-width:.9"/>
<polygon points="774.8,240.8 780.6,239 785.6,243.3 788.1,249 784.8,250.7 781.5,246.6 777.3,244.9" fill="#E84B26" style="stroke:#E84B26;stroke-width:.9"/>
<polygon points="777.3,254 782.3,251.6 788.1,250.7 790.6,255.7 789,261.5 784.8,262.4 782.3,258.2 778.1,258.2" fill="#E84B26" style="stroke:#E84B26;stroke-width:.9"/>
<polygon points="760.7,254.9 764,249.9 768.2,242.4 769.5,243.3 765.7,250.7 762.3,255.7" fill="#E84B26" style="stroke:#E84B26;stroke-width:.9"/>
<polygon points="794,274 796.4,273.2 796.4,279 798.1,283.2 795.6,283.2 794,279" fill="#E84B26" style="stroke:#E84B26;stroke-width:.9"/>
<polygon points="785.6,287.3 789.8,286.5 796.4,287.3 803.1,288.2 802.3,290.7 796.4,290.2 789.8,289.8" fill="#E84B26" style="stroke:#E84B26;stroke-width:.9"/>
<polygon points="805,284.9 811,283.9 815,288.8 820,290.8 825.9,287.8 834.8,290.8 834.2,312.7 828.8,309.8 823.9,308.8 826.9,305.8 821.9,299.8 816.9,294.8 811.9,292.8 808,288.8" fill="#E84B26"/>
<polygon points="834.8,290.8 841.8,292.8 847.8,297.8 853.7,302.8 849.8,304.8 854.7,309.8 859.7,313.7 863.7,316.7 861.7,318.7 856.7,315.7 850.8,312.7 845.8,313.7 840.8,314.7 834.2,312.7" fill="#D71F27"/>
<polygon points="855.7,301.4 861.7,302.2 866.7,299.8 870.7,296.8 866.7,292.8 863.7,290.8 868.7,292.2 872,296.8 868.7,301.4 862.7,303.8 856.7,303" fill="#D71F27" style="stroke:#D71F27;stroke-width:.9"/>
<polygon points="875.7,299.8 878.6,303.8 877.6,304.8 875.3,301.4" fill="#D71F27" style="stroke:#D71F27;stroke-width:.9"/>
<polygon points="888,311 892,315 891.3,315.8 887.3,311.8" fill="#E4E5E7"/>
<polygon points="908,335 910,341 909,341.3 907,335.4" fill="#E4E5E7"/>
<polygon points="881,305.5 884,307.5 883.5,308.5 880.5,306.5" fill="#E4E5E7"/>
<polygon points="743,365 746.6,359 755,354 764.5,350.6 771.7,344.7 779,337.5 785,331.5 792,329 798,331.5 800.4,324.3 806.4,320.8 812.4,323 819.5,324.3 817,330 822,335 828,341 831.5,336 834,328 836.8,319.6 839,325.5 841,332.7 844.7,340 847,348 851.8,355.4 855.4,361.4 859,368.6 859,377 855.4,385 850.6,393.7 844.7,400.9 838.7,406.8 832.7,411.6 825.5,415 818.4,416.4 812.4,414 807.6,410.4 805,404.5 801.6,405.6 798,402 795.6,397 792,392.5 783.7,390 774,392.5 764.5,395 756,398.5 747.8,402 741.8,402 738,398.5 741.8,391 744,381.7 741.8,372" fill="#FED805"/>
<polygon points="811,419 817,417.6 823,419 822,423.6 817,429.6 812.4,432 810,427" fill="#FED805" style="stroke:#FED805;stroke-width:.9"/>
<polygon points="904.5,401 907,402 906,408 909,413 914,411.6 910.4,416.4 905.6,420 901,422.4 897,423.6 898.5,419 903,415 904.5,409" fill="#FFF200" style="stroke:#FFF200;stroke-width:.9"/>
<polygon points="892.5,423.6 896,424.8 891,429.6 884,433 875.8,438 867.4,441.5 862.6,442.7 860,440 867.4,436.7 875.8,432 884,427" fill="#FFF200" style="stroke:#FFF200;stroke-width:.9"/>
<polygon points="898,353 905,358.5 904.2,359.5 897.3,354" fill="#E4E5E7" style="stroke:#E4E5E7;stroke-width:.9"/>
</svg>
<svg id="legend" width="920" height="603" viewBox="0 0 920 603">
<defs><linearGradient id="lg" gradientUnits="userSpaceOnUse" x1="138.8" y1="0" x2="441.4" y2="0">
<stop offset="0" stop-color="#9C1D20"/><stop offset=".037" stop-color="#86171A"/><stop offset=".065" stop-color="#7C1416"/><stop offset=".11" stop-color="#8E181B"/><stop offset=".17" stop-color="#B41C21"/><stop offset=".22" stop-color="#D01F26"/><stop offset=".25" stop-color="#DA2027"/><stop offset=".295" stop-color="#E3352A"/><stop offset=".33" stop-color="#E8452A"/><stop offset=".40" stop-color="#EC5E27"/><stop offset=".48" stop-color="#EF7924"/><stop offset=".54" stop-color="#F18A20"/><stop offset=".627" stop-color="#F5A11B"/><stop offset=".713" stop-color="#F9B814"/><stop offset=".80" stop-color="#FCCB0E"/><stop offset=".857" stop-color="#FEDC08"/><stop offset=".943" stop-color="#FFEC02"/><stop offset="1" stop-color="#FFF200"/>
</linearGradient></defs>
<rect x="138.8" y="523.4" width="302.6" height="16" fill="url(#lg)"/>
<polygon points="148.7,539.2 152.9,539.2 150.8,542.6" fill="url(#lg)"/><polygon points="179.37,539.2 183.57,539.2 181.47,542.6" fill="url(#lg)"/><polygon points="210.04,539.2 214.24,539.2 212.14,542.6" fill="url(#lg)"/><polygon points="240.71,539.2 244.91,539.2 242.81,542.6" fill="url(#lg)"/><polygon points="271.38,539.2 275.58,539.2 273.48,542.6" fill="url(#lg)"/><polygon points="302.05,539.2 306.25,539.2 304.15,542.6" fill="url(#lg)"/><polygon points="332.72,539.2 336.92,539.2 334.82,542.6" fill="url(#lg)"/><polygon points="363.39,539.2 367.59,539.2 365.49,542.6" fill="url(#lg)"/><polygon points="394.06,539.2 398.26,539.2 396.16,542.6" fill="url(#lg)"/><polygon points="424.73,539.2 428.93,539.2 426.83,542.6" fill="url(#lg)"/>
<rect x="474.5" y="523.6" width="23.1" height="15.8" fill="#E4E5E7"/>
<polygon points="483.9,539.2 488.1,539.2 486,542.4" fill="#E4E5E7"/>
</svg>
<div class="t" id="score">SCORE</div>
<div class="t sm" id="hc">Highly<br>Corrupt</div>
<div class="t sm" id="vc">Very<br>Clean</div>
<div class="lb" style="left:131px">0-9</div><div class="lb" style="left:161.67px">10-19</div><div class="lb" style="left:192.34px">20-29</div><div class="lb" style="left:223.01px">30-39</div><div class="lb" style="left:253.68px">40-49</div><div class="lb" style="left:284.35px">50-59</div><div class="lb" style="left:315.02px">60-69</div><div class="lb" style="left:345.69px">70-79</div><div class="lb" style="left:376.36px">80-89</div><div class="lb" style="left:409.43px">90-100</div>
<div class="lb" id="nd">No data</div>
</body></html>
